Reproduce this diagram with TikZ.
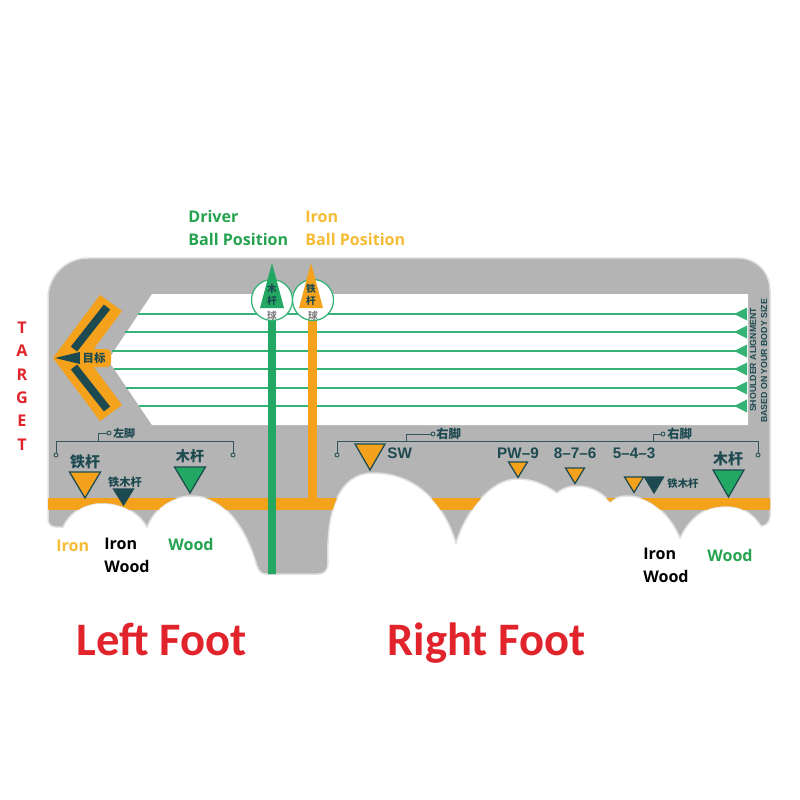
\documentclass[tikz,border=0pt]{standalone}
\usepackage{fontspec}
\setmainfont{Open Sans}
\newfontfamily\footfont{Carlito}
\newfontfamily\matfont{Liberation Sans}
\newfontfamily\cjk{Noto Sans CJK SC}
\usetikzlibrary{shapes}

\definecolor{matgray}{HTML}{B4B4B4}
\definecolor{clubgreen}{HTML}{22A862}
\definecolor{linegreen}{HTML}{35B276}
\definecolor{clubor}{HTML}{F4A21C}
\definecolor{darkteal}{HTML}{1D4A50}
\definecolor{tgtred}{HTML}{E1232B}
\definecolor{goldtxt}{HTML}{F5BC35}
\definecolor{greentxt}{HTML}{25A34F}

% outline of the mat, feet cut out at the bottom
\newcommand\matoutline{(48,298) .. controls (48,276) and (66,258) .. (88,258)
  -- (738,258) .. controls (756,258) and (770,272) .. (770,290)
  -- (770,516) .. controls (770,522) and (766,526) .. (761,526)
  .. controls (748,506) and (731,505) .. (717,507)
  .. controls (701,509) and (688,521) .. (680,538)
  .. controls (670,514) and (650,496) .. (627,496)
  .. controls (618,496) and (613,499) .. (610,502)
  .. controls (601,491) and (589,486) .. (577,486)
  .. controls (568,486) and (561,489) .. (557,493)
  .. controls (543,483) and (531,479) .. (517,479)
  .. controls (490,479) and (465,513) .. (456,543)
  .. controls (442,498) and (412,473) .. (373,473)
  .. controls (340,473) and (326,508) .. (328,562)
  .. controls (328,570) and (325,574) .. (318,574)
  -- (266,574) .. controls (261,574) and (259,571) .. (257,566)
  .. controls (246,528) and (225,496) .. (192,496)
  .. controls (171,496) and (155,508) .. (147,527)
  .. controls (138,511) and (120,503) .. (102,503)
  .. controls (85,503) and (70,512) .. (63,527)
  -- (56,527) .. controls (51,527) and (48,524) .. (48,519) -- cycle}

% inverted club marker: x, top, tip, half width, colour
\newcommand\downtri[5]{\filldraw[tri, fill=#5] (#1-#4,#2) -- (#1+#4,#2) -- (#1,#3) -- cycle;}

\begin{document}
\begin{tikzpicture}[x=0.02cm, y=-0.02cm,
    lbl/.style={font=\bfseries\fontsize{9.15}{11}\selectfont, inner sep=0pt, anchor=base west},
    matlbl/.style={font=\matfont\bfseries\fontsize{8.7}{10}\selectfont, text=darkteal, inner sep=0pt, anchor=base},
    cjklbl/.style={font=\cjk\bfseries\fontsize{#1}{#1}\selectfont, text=darkteal, inner sep=0pt},
    tri/.style={draw=darkteal, line width=0.025cm},
    bracket/.style={draw=darkteal!80!gray, line width=0.018cm},
    footlbl/.style={font=\footfont\bfseries\fontsize{26.5}{30}\selectfont, text=tgtred, inner sep=0pt, anchor=base west}]
  \useasboundingbox (0,0) rectangle (800,800);

  % mat and white field
  \filldraw[fill=matgray, draw=black!12, line width=0.03cm] \matoutline;
  \fill[white] (152,294) -- (748,294) -- (748,425) -- (152,425) -- (108,360) -- cycle;

  % shoulder lines
  \foreach \y/\xs in {314/138, 332/125, 351/112, 369/114, 388/126, 406/139}
  {\draw[linegreen, line width=0.03cm] (\xs,\y) -- (736,\y);
   \fill[linegreen] (734,\y) -- (747,\y-6.5) -- (747,\y+6.5) -- cycle;}

  % bars, clipped to the mat
  \begin{scope}
    \clip \matoutline;
    \fill[clubor] (40,498) rectangle (790,510);
    \draw[clubor, line width=0.18cm] (312,318) -- (312,504);
    \draw[clubgreen, line width=0.16cm] (272,318) -- (272,590);
  \end{scope}

  % ball position circles
  \filldraw[fill=white, draw=linegreen, line width=0.025cm] (272,300) circle (20.5);
  \filldraw[fill=white, draw=linegreen, line width=0.025cm] (313,300) circle (20.5);
  \fill[clubgreen] (272,263) -- (284,308) -- (260,308) -- cycle;
  \fill[clubor] (311,263) -- (323,308) -- (299,308) -- cycle;
  \node[cjklbl=5.5] (drv1) at (272,289) {木};
  \node[cjklbl=5.5] (drv2) at (272,301) {杆};
  \node[cjklbl=5.5, text=gray] (drv3) at (272,316) {球};
  \node[cjklbl=5.5] (irn1) at (311,289) {铁};
  \node[cjklbl=5.5] (irn2) at (311,301) {杆};
  \node[cjklbl=5.5, text=gray] (irn3) at (313,316) {球};

  % target arrow
  \fill[clubor] (53,358) -- (100,295) -- (122,311) -- (87,358) -- (122,405) -- (100,421) -- cycle;
  \draw[darkteal, line width=0.16cm] (107,307) -- (74,349);
  \draw[darkteal, line width=0.16cm] (107,409) -- (74,367);
  \fill[darkteal] (55,358) -- (80,352) -- (80,364) -- cycle;
  \fill[clubor, rounded corners=0.08cm] (80,349) rectangle (111,367);
  \node[cjklbl=6.5] (goal) at (94,358) {目标};

  % vertical note
  \node[rotate=90, font=\matfont\bfseries\fontsize{5}{6}\selectfont, text=darkteal, inner sep=0pt] (shoulder) at (753,360) {SHOULDER ALIGNMENT};
  \node[rotate=90, font=\matfont\bfseries\fontsize{5}{6}\selectfont, text=darkteal, inner sep=0pt] (bodysize) at (764,361) {BASED ON YOUR BODY SIZE};

  % left foot bracket
  \draw[bracket] (56,453) -- (56,441) -- (233,441) -- (233,453);
  \draw[bracket] (98,441) -- (98,433) -- (107,433);
  \filldraw[bracket, fill=matgray] (56,455) circle (2) (233,455) circle (2) (109,433) circle (2);
  \node[cjklbl=6.2, anchor=west] (leftfoot) at (113,433) {左脚};

  % right foot bracket
  \draw[bracket] (337,453) -- (337,441) -- (758,441) -- (758,453);
  \draw[bracket] (406,441) -- (406,434) -- (431,434);
  \draw[bracket] (653,441) -- (653,434) -- (661,434);
  \filldraw[bracket, fill=matgray] (337,455) circle (2) (758,455) circle (2) (433,434) circle (2) (663,434) circle (2);
  \node[cjklbl=7, anchor=west] (rightfoot1) at (436,434) {右脚};
  \node[cjklbl=7, anchor=west] (rightfoot2) at (667,434) {右脚};

  % left foot markers
  \node[cjklbl=8.5] (lirons) at (85,462) {铁杆};
  \downtri{85}{472}{498}{15.5}{clubor}
  \node[cjklbl=6.4] (lirwood) at (125,482) {铁木杆};
  \downtri{123.5}{489}{505}{10}{darkteal}
  \node[cjklbl=8] (lwood) at (190,456) {木杆};
  \downtri{190}{467}{493}{15.5}{clubgreen}

  % right foot markers
  \downtri{370}{444}{470}{15}{clubor}
  \node[matlbl, anchor=base west] (sw) at (387,458) {SW};
  \foreach \x/\lab/\top in {518/PW–9/462, 575/8–7–6/468, 634/5–4–3/477}
  {\node[matlbl] (club\x) at (\x,458) {\lab};
   \downtri{\x}{\top}{\top+15.5}{9.5}{clubor}}
  \downtri{654}{477}{493}{9.5}{darkteal}
  \node[cjklbl=5.9] (rirwood) at (683,484) {铁木杆};
  \node[cjklbl=8.5] (rwood) at (728,459) {木杆};
  \downtri{728.5}{470}{497}{15.5}{clubgreen}

  % captions
  \foreach \c [count=\i from 0] in {T,A,R,G,E,T}
    \node[font=\bfseries\fontsize{9.2}{11}\selectfont, text=tgtred, inner sep=0pt, anchor=base] (tgt\i) at (22,333.5+23.3*\i) {\c};
  \node[lbl, text=greentxt] (driver1) at (188,223) {Driver};
  \node[lbl, text=greentxt] (driver2) at (188,246) {Ball Position};
  \node[lbl, text=goldtxt] (iron1) at (305,223) {Iron};
  \node[lbl, text=goldtxt] (iron2) at (305,246) {Ball Position};
  \node[lbl, text=goldtxt] (liron) at (56,551) {Iron};
  \node[lbl] (lironw1) at (104,549) {Iron};
  \node[lbl] (lironw2) at (104,572) {Wood};
  \node[lbl, text=greentxt] (lwoodtxt) at (168,550) {Wood};
  \node[lbl] (rironw1) at (643,559) {Iron};
  \node[lbl] (rironw2) at (643,582) {Wood};
  \node[lbl, text=greentxt] (rwoodtxt) at (707,561) {Wood};
  \node[footlbl] (leftcap) at (76,655) {Left Foot};
  \node[footlbl] (rightcap) at (387,655) {Right Foot};
\end{tikzpicture}
\end{document}
